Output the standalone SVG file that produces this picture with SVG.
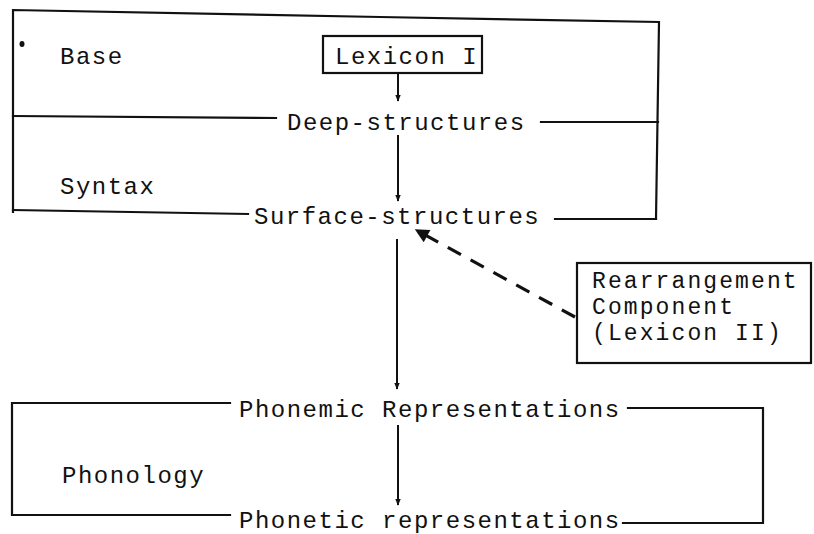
<svg xmlns="http://www.w3.org/2000/svg" width="814" height="534" viewBox="0 0 814 534">
<defs>
<style>
.t{font-family:"Liberation Mono","Courier New",monospace;font-size:24px;letter-spacing:1.5px;fill:#111}
.s{font-size:23px;letter-spacing:2.1px}
.ln{stroke:#111;stroke-width:2.2;fill:none;stroke-linecap:square}
.ar{stroke:#111;stroke-width:2;fill:none}
.da{stroke:#111;stroke-width:3.2;fill:none;stroke-dasharray:15 11}
</style>
<marker id="sm" viewBox="0 0 10 10" refX="9" refY="5" markerWidth="7" markerHeight="7" markerUnits="userSpaceOnUse" orient="auto"><path d="M0,1 L10,5 L0,9 z" fill="#111"/></marker>
<marker id="big" viewBox="0 0 10 10" refX="9" refY="5" markerWidth="16" markerHeight="14" markerUnits="userSpaceOnUse" orient="auto"><path d="M0,0 L10,5 L0,10 z" fill="#111"/></marker>
</defs>
<rect width="814" height="534" fill="#fff"/>

<g id="syntax-frame">
<path class="ln" d="M13,212 L13,10 L380,17 L659,22 L656,219"/>
<path class="ln" d="M13,116 L276,118"/>
<path class="ln" d="M541,122 L658,122"/>
<path class="ln" d="M13,210 L248,214"/>
<path class="ln" d="M555,219 L656,219"/>
<ellipse cx="22" cy="44" rx="2.5" ry="3" fill="#111"/>
<text class="t" x="60" y="64">Base</text>
<text class="t" x="60" y="194">Syntax</text>
</g>

<g id="lexicon1">
<rect class="ln" x="323" y="36" width="159" height="37"/>
<text class="t" x="335" y="64">Lexicon I</text>
</g>

<g id="deep">
<text class="t" x="287" y="130">Deep-structures</text>
</g>

<g id="surface">
<text class="t" x="254" y="224">Surface-structures</text>
</g>

<g id="rearrangement">
<rect class="ln" x="577" y="263" width="234" height="100"/>
<text class="t s" x="592" y="288">Rearrangement</text>
<text class="t s" x="592" y="314">Component</text>
<text class="t s" x="592" y="340">(Lexicon II)</text>
</g>

<g id="phonology-frame">
<path class="ln" d="M230,403 L12,403 L12,515 L230,515"/>
<path class="ln" d="M628,408 L763,408 L763,523 L623,523"/>
<text class="t" x="62" y="483">Phonology</text>
</g>

<g id="phonemic">
<text class="t" x="239" y="417">Phonemic Representations</text>
</g>

<g id="phonetic">
<text class="t" x="239" y="528">Phonetic representations</text>
</g>

<g id="connectors">
<line class="ar" x1="398" y1="74" x2="398" y2="101" marker-end="url(#sm)"/>
<line class="ar" x1="398" y1="135" x2="398" y2="201" marker-end="url(#sm)"/>
<line class="ar" x1="397" y1="239" x2="397" y2="389" marker-end="url(#sm)"/>
<line class="ar" x1="398" y1="425" x2="398" y2="505" marker-end="url(#sm)"/>
<line class="da" x1="575" y1="317" x2="416" y2="230" marker-end="url(#big)"/>
</g>
</svg>
